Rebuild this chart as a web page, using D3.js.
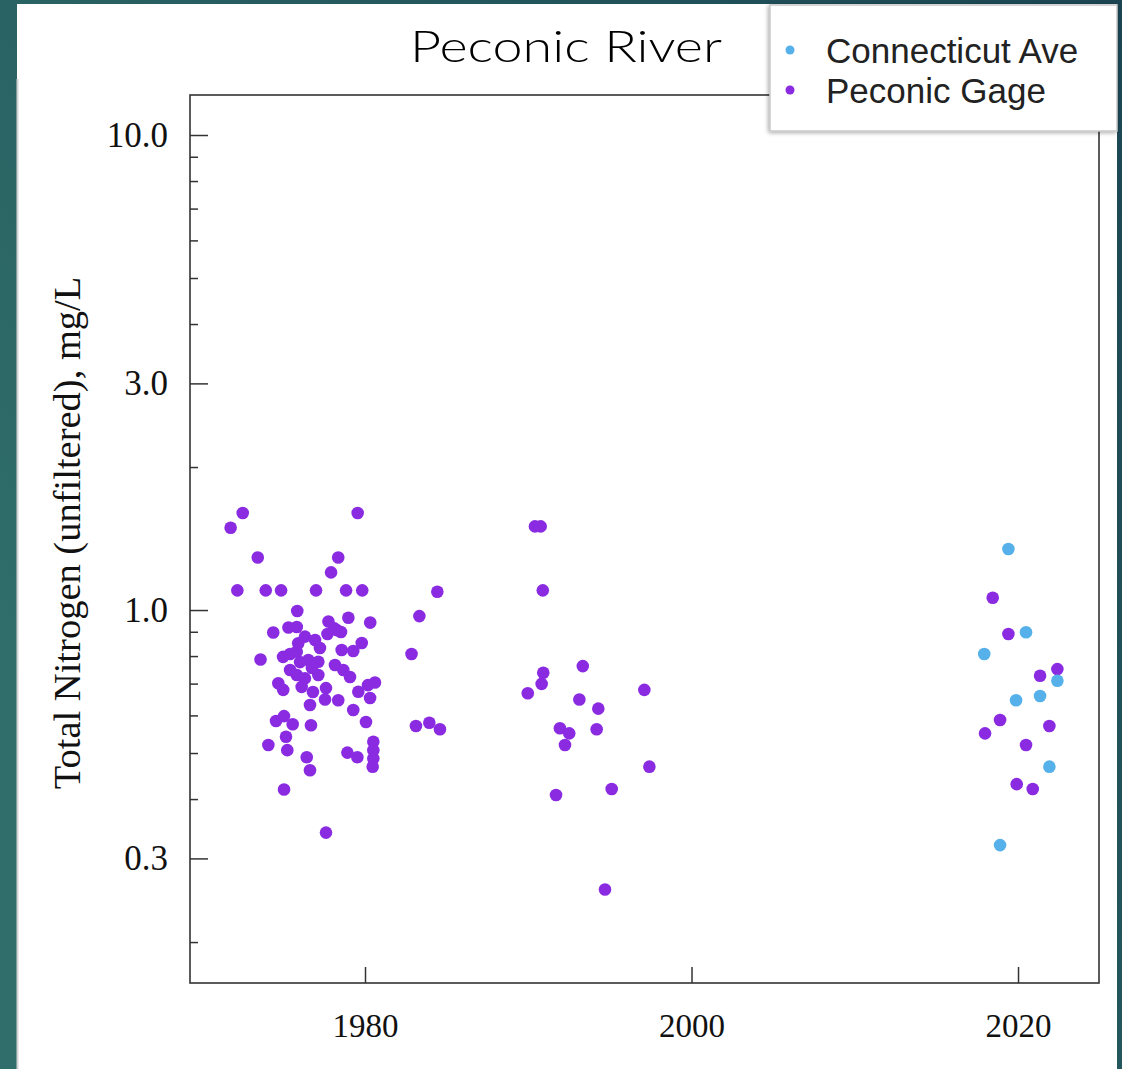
<!DOCTYPE html>
<html>
<head>
<meta charset="utf-8">
<script src="https://d3js.org/d3.v7.min.js"></script>
<style>
  body { margin: 0; padding: 0; overflow: hidden; }
  #chart { width: 1122px; height: 1069px; }
</style>
</head>
<body>
<div id="chart"></div>
<script>
// Peconic Gage samples: year, total nitrogen (mg/L)
let gageYears = [
  1971.77, 1972.51, 1979.55, 1973.43, 1978.36, 1977.92, 1972.18, 1973.92, 1974.86, 1977.00,
  1978.84, 1979.83, 1975.85, 1978.98, 1980.32, 1974.38, 1975.31, 1975.82, 1977.76, 1978.12,
  1978.53, 1976.32, 1976.94, 1975.91, 1977.24, 1975.82, 1974.98, 1978.57, 1979.28, 1979.80,
  1973.60, 1976.53, 1977.14, 1975.41, 1975.82, 1976.32, 1977.14, 1978.16, 1978.67, 1979.08,
  1974.69, 1976.12, 1974.99, 1980.18, 1980.61, 1980.31, 1979.59, 1976.63, 1977.55, 1978.36,
  1979.28, 1974.55, 1975.04, 1975.57, 1976.69, 1980.06, 1975.16, 1974.08, 1975.24, 1976.43,
  1976.63, 1978.92, 1979.53, 1980.51, 1980.51, 1980.51, 1980.47, 1975.04, 1977.61, 1976.75,
  1976.02, 1977.61, 1976.81, 1975.41, 1977.70, 1978.27,
  1982.85, 1983.33, 1984.43, 1983.12, 1983.94, 1984.59,
  1990.41, 1990.76, 1990.89, 1990.92, 1990.82, 1989.97, 1993.34, 1993.13, 1994.29, 1994.19,
  1991.94, 1992.51, 1992.25, 1997.11, 1997.42, 1991.70, 1995.11, 1994.70,
  2018.45, 2019.41, 2021.35, 2022.41, 2018.90, 2017.98, 2021.92, 2020.49, 2019.92, 2020.90
];
let gageValues = [
  1.49, 1.60, 1.60, 1.29, 1.29, 1.20, 1.10, 1.10, 1.10, 1.10,
  1.10, 1.10, 0.995, 0.963, 0.941, 0.897, 0.919, 0.921, 0.946, 0.915,
  0.899, 0.879, 0.865, 0.851, 0.832, 0.817, 0.797, 0.824, 0.820, 0.852,
  0.787, 0.785, 0.778, 0.748, 0.730, 0.718, 0.730, 0.766, 0.748, 0.723,
  0.701, 0.689, 0.679, 0.695, 0.704, 0.653, 0.673, 0.631, 0.648, 0.646,
  0.616, 0.584, 0.598, 0.575, 0.572, 0.581, 0.541, 0.520, 0.507, 0.490,
  0.460, 0.501, 0.490, 0.528, 0.507, 0.487, 0.468, 0.419, 0.340, 0.755,
  0.777, 0.685, 0.672, 0.808, 0.890, 0.907,
  0.808, 0.971, 1.093, 0.570, 0.579, 0.561,
  1.50, 1.50, 1.10, 0.738, 0.699, 0.668, 0.762, 0.648, 0.620, 0.561,
  0.564, 0.550, 0.520, 0.679, 0.468, 0.408, 0.420, 0.258,
  1.061, 0.890, 0.727, 0.751, 0.587, 0.550, 0.570, 0.520, 0.430, 0.420
];

// Connecticut Ave samples
let ctYears = [2019.41, 2020.49, 2017.93, 2022.41, 2021.35, 2019.88, 2021.92, 2018.90];
let ctValues = [1.344, 0.898, 0.808, 0.710, 0.659, 0.646, 0.468, 0.320];

let seriesNames = ["Connecticut Ave", "Peconic Gage"];
let seriesColors = ["#56B1EA", "#8A2BE2"];

let xTicks = [1980, 2000, 2020];
let yMajorTicks = [0.3, 1, 3, 10];
let yMajorLabels = ["0.3", "1.0", "3.0", "10.0"];
let yMinorTicks = [0.2, 0.4, 0.5, 0.6, 0.7, 0.8, 0.9, 2, 4, 5, 6, 7, 8, 9];

class NitrogenChart {

  constructor () {
    this.width = 1122;
    this.height = 1069;
    // plot frame
    this.left = 190;
    this.right = 1099;
    this.top = 95;
    this.bottom = 983;

    this.svg = d3.select("#chart").append("svg")
        .attr("width", this.width)
        .attr("height", this.height);

    let defs = this.svg.append("defs");
    let grad = defs.append("linearGradient")
        .attr("id", "bg")
        .attr("x1", "0").attr("y1", "0.6")
        .attr("x2", "1").attr("y2", "0");
    grad.append("stop").attr("offset", "0%").attr("stop-color", "#2f6e6a");
    grad.append("stop").attr("offset", "100%").attr("stop-color", "#1b4553");

    let shadow = defs.append("filter").attr("id", "shadow")
        .attr("x", "-5%").attr("y", "-10%").attr("width", "115%").attr("height", "130%");
    shadow.append("feDropShadow")
        .attr("dx", -1).attr("dy", 1)
        .attr("stdDeviation", 2)
        .attr("flood-color", "#000")
        .attr("flood-opacity", 0.35);
  };

  update ()
  {
    let gage = gageYears.map((y, i) => ({year: y, value: gageValues[i]}));
    let ct = ctYears.map((y, i) => ({year: y, value: ctValues[i]}));

    let xScale = d3.scaleLinear()
        .domain([1969.28, 2024.96])
        .range([this.left, this.right]);

    let yScale = d3.scaleLog()
        .domain([0.164, 12.14])
        .range([this.bottom, this.top]);

    // background + white panel
    this.svg.append("rect")
        .attr("width", this.width)
        .attr("height", this.height)
        .attr("fill", "url(#bg)");
    this.svg.append("rect")
        .attr("x", 17).attr("y", 4)
        .attr("width", 1100).attr("height", this.height - 4)
        .attr("fill", "#fff");
    this.svg.append("line")
        .attr("x1", 17.5).attr("x2", 17.5)
        .attr("y1", 79).attr("y2", this.height)
        .attr("stroke", "#d4d4d4")
        .attr("stroke-width", 2);

    // x axis, ticks pointing inward
    let xAxis = d3.axisBottom(xScale)
        .tickValues(xTicks)
        .tickFormat(d3.format("d"))
        .tickSize(-16)
        .tickPadding(31);
    let gx = this.svg.append("g")
        .attr("transform", "translate(0," + this.bottom + ")")
        .call(xAxis);

    // y axis, log scale, major and minor ticks
    let yAxis = d3.axisLeft(yScale)
        .tickValues(yMajorTicks)
        .tickFormat((d, i) => yMajorLabels[i])
        .tickSize(-18)
        .tickPadding(22);
    let gy = this.svg.append("g")
        .attr("transform", "translate(" + this.left + ",0)")
        .call(yAxis);

    let yMinor = d3.axisLeft(yScale)
        .tickValues(yMinorTicks)
        .tickFormat("")
        .tickSize(-8);
    let gyMinor = this.svg.append("g")
        .attr("transform", "translate(" + this.left + ",0)")
        .call(yMinor);

    [gx, gy, gyMinor].forEach(g => {
      g.select(".domain").remove();
      g.selectAll("line").attr("stroke", "#333").attr("stroke-width", 1.5);
      g.selectAll("text")
          .attr("fill", "#111")
          .style("font-family", "'Liberation Serif', 'Times New Roman', serif")
          .style("font-size", "33px");
    });
    gy.selectAll("text").style("font-size", "35px");

    // frame
    this.svg.append("rect")
        .attr("x", this.left).attr("y", this.top)
        .attr("width", this.right - this.left)
        .attr("height", this.bottom - this.top)
        .attr("fill", "none")
        .attr("stroke", "#333")
        .attr("stroke-width", 1.6);

    // y label
    this.svg.append("text")
        .attr("transform", "translate(80,533) rotate(-90)")
        .attr("text-anchor", "middle")
        .attr("fill", "#111")
        .style("font-family", "'Liberation Serif', 'Times New Roman', serif")
        .style("font-size", "38.5px")
        .text("Total Nitrogen (unfiltered), mg/L");

    // points
    let gPts = this.svg.append("g");
    gPts.selectAll(".gage")
        .data(gage)
        .enter()
        .append("circle")
        .attr("class", "gage")
        .attr("cx", d => xScale(d.year))
        .attr("cy", d => yScale(d.value))
        .attr("r", 6.3)
        .style("fill", seriesColors[1]);
    gPts.selectAll(".ct")
        .data(ct)
        .enter()
        .append("circle")
        .attr("class", "ct")
        .attr("cx", d => xScale(d.year))
        .attr("cy", d => yScale(d.value))
        .attr("r", 6.3)
        .style("fill", seriesColors[0]);

    // title
    this.svg.append("text")
        .attr("x", 566)
        .attr("y", 62)
        .attr("text-anchor", "middle")
        .attr("textLength", 312)
        .attr("lengthAdjust", "spacingAndGlyphs")
        .attr("fill", "#000")
        .style("font-family", "Lato, 'Open Sans', sans-serif")
        .style("font-weight", 300)
        .style("font-size", "44px")
        .text("Peconic River");

    // legend
    let gLeg = this.svg.append("g").attr("transform", "translate(770,5)");
    gLeg.append("rect")
        .attr("x", 0).attr("y", 0)
        .attr("width", 347).attr("height", 126)
        .attr("fill", "#fff")
        .attr("stroke", "#c9c9c9")
        .attr("stroke-width", 1.5)
        .attr("filter", "url(#shadow)");
    let items = gLeg.selectAll(".item")
        .data(seriesNames)
        .enter()
        .append("g")
        .attr("class", "item")
        .attr("transform", (d, i) => "translate(0," + (45 + i * 40) + ")");
    items.append("circle")
        .attr("cx", 20).attr("cy", 0)
        .attr("r", 4.5)
        .style("fill", (d, i) => seriesColors[i]);
    items.append("text")
        .attr("x", 56)
        .attr("y", 0)
        .attr("dy", "0.36em")
        .attr("fill", "#222")
        .style("font-family", "'Liberation Sans', Arial, sans-serif")
        .style("font-size", "35px")
        .text(d => d);
  };
};

let chart = new NitrogenChart();
chart.update();
</script>
</body>
</html>
